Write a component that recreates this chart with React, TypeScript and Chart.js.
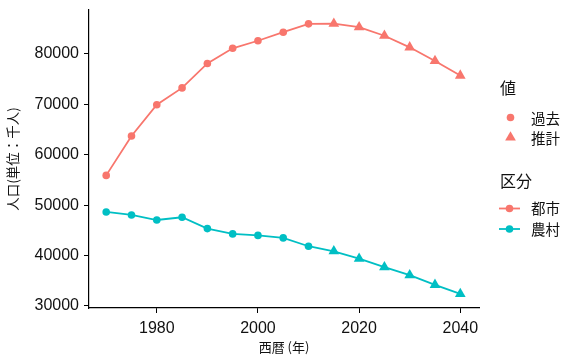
import React, { useEffect, useRef } from "react";
import { Chart, registerables } from "chart.js";

Chart.register(...registerables);

// ---- data ----
const years = [1970, 1975, 1980, 1985, 1990, 1995, 2000, 2005, 2010, 2015, 2020, 2025, 2030, 2035, 2040];
const kind = ["過去", "過去", "過去", "過去", "過去", "過去", "過去", "過去", "過去", "推計", "推計", "推計", "推計", "推計", "推計"];
const urban = [55900, 63700, 69900, 73250, 78100, 81100, 82600, 84300, 85950, 86000, 85300, 83600, 81300, 78600, 75700];
const rural = [48650, 48050, 47050, 47600, 45350, 44300, 44000, 43500, 41850, 40850, 39400, 37700, 36100, 34200, 32400];
const xTicks = [1980, 2000, 2020, 2040];
const yTicks = [30000, 40000, 50000, 60000, 70000, 80000];
const seriesNames = ["都市", "農村"];
const kindNames = ["過去", "推計"];
const legendTitles = ["値", "区分"];
const xTitle = "西暦 (年)";
const yTitle = "人口(単位：千人)";

const RED = "#F8766D";
const CYAN = "#00BFC4";
const TEXT = "#111111";
const CJK = '"Noto Sans CJK JP", "Noto Sans", sans-serif';
const LAT = '"Liberation Sans", Arial, sans-serif';

const styleFor = (k: string) => (k === "過去" ? "circle" : "triangle");
const radiusFor = (k: string) => (k === "過去" ? 3.8 : 6.2);

const legendPlugin = {
  id: "customLegend",
  afterDraw(chart: any) {
    const ctx = chart.ctx as CanvasRenderingContext2D;
    ctx.save();
    ctx.textBaseline = "middle";
    ctx.textAlign = "left";
    ctx.fillStyle = TEXT;
    ctx.font = `16px ${CJK}`;
    ctx.fillText(legendTitles[0], 500, 88);
    ctx.fillText(legendTitles[1], 500, 181);
    ctx.font = `14.5px ${CJK}`;
    // shape legend
    ctx.fillStyle = RED;
    ctx.beginPath();
    ctx.arc(510.5, 117.5, 3.8, 0, Math.PI * 2);
    ctx.fill();
    const tx = 510.5, ty = 137.5, tr = 6.2;
    ctx.beginPath();
    ctx.moveTo(tx, ty - tr);
    ctx.lineTo(tx + tr * Math.sin(Math.PI / 3), ty + tr * 0.5);
    ctx.lineTo(tx - tr * Math.sin(Math.PI / 3), ty + tr * 0.5);
    ctx.closePath();
    ctx.fill();
    ctx.fillStyle = TEXT;
    ctx.fillText(kindNames[0], 531, 118);
    ctx.fillText(kindNames[1], 531, 138);
    // series legend
    const cols = [RED, CYAN];
    const ys = [208.5, 229];
    for (let i = 0; i < 2; i++) {
      ctx.strokeStyle = cols[i];
      ctx.lineWidth = 1.8;
      ctx.beginPath();
      ctx.moveTo(499, ys[i]);
      ctx.lineTo(520, ys[i]);
      ctx.stroke();
      ctx.fillStyle = cols[i];
      ctx.beginPath();
      ctx.arc(509.5, ys[i], 3.8, 0, Math.PI * 2);
      ctx.fill();
      ctx.fillStyle = TEXT;
      ctx.fillText(seriesNames[i], 531, ys[i]);
    }
    ctx.restore();
  },
};

export default function App() {
  const ref = useRef<HTMLCanvasElement | null>(null);
  useEffect(() => {
    document.body.style.margin = "0";
    const canvas = ref.current!;
    const mk = (vals: number[], color: string, label: string) => ({
      label,
      data: years.map((y, i) => ({ x: y, y: vals[i] })),
      borderColor: color,
      backgroundColor: color,
      borderWidth: 1.8,
      pointStyle: kind.map(styleFor),
      pointRadius: kind.map(radiusFor),
      pointBorderWidth: 0,
      pointBackgroundColor: color,
      pointBorderColor: color,
      tension: 0,
    });
    const chart = new Chart(canvas, {
      type: "line",
      data: { datasets: [mk(urban, RED, seriesNames[0]), mk(rural, CYAN, seriesNames[1])] as any },
      options: {
        animation: false,
        responsive: false,
        devicePixelRatio: 1,
        layout: { padding: { top: 10, right: 83, left: 0, bottom: 0 } },
        plugins: { legend: { display: false }, tooltip: { enabled: false } },
        scales: {
          x: {
            type: "linear",
            min: 1966.6,
            max: 2043.7,
            afterBuildTicks: (s: any) => {
              s.ticks = xTicks.map((v) => ({ value: v }));
            },
            afterFit: (s: any) => {
              s.height = 51;
              s.paddingLeft = 0;
              s.paddingRight = 0;
            },
            ticks: { font: { family: LAT, size: 16 }, color: TEXT, padding: 6, maxRotation: 0, callback: (v: any) => String(v) },
            grid: { drawOnChartArea: false, drawTicks: true, tickLength: 5, tickColor: "#000", color: "#000" },
            border: { color: "#000", width: 1.2 },
            title: { display: true, text: xTitle, font: { family: CJK, size: 13 }, color: TEXT, padding: { top: 4, bottom: 4 } },
          },
          y: {
            type: "linear",
            min: 29600,
            max: 88700,
            afterBuildTicks: (s: any) => {
              s.ticks = yTicks.map((v) => ({ value: v }));
            },
            afterFit: (s: any) => {
              s.width = 89;
              s.paddingTop = 0;
              s.paddingBottom = 0;
            },
            ticks: { font: { family: LAT, size: 16 }, color: TEXT, padding: 5, callback: (v: any) => String(v) },
            grid: { drawOnChartArea: false, drawTicks: true, tickLength: 5, tickColor: "#000", color: "#000" },
            border: { color: "#000", width: 1.2 },
            title: { display: true, text: yTitle, font: { family: CJK, size: 13.5 }, color: TEXT, padding: { top: 5, bottom: 0 } },
          },
        },
      },
      plugins: [legendPlugin],
    } as any);
    return () => chart.destroy();
  }, []);
  return (
    <div style={{ width: 562, height: 359, position: "relative", background: "#fff" }}>
      <canvas ref={ref} width={562} height={359} style={{ display: "block" }} />
    </div>
  );
}
